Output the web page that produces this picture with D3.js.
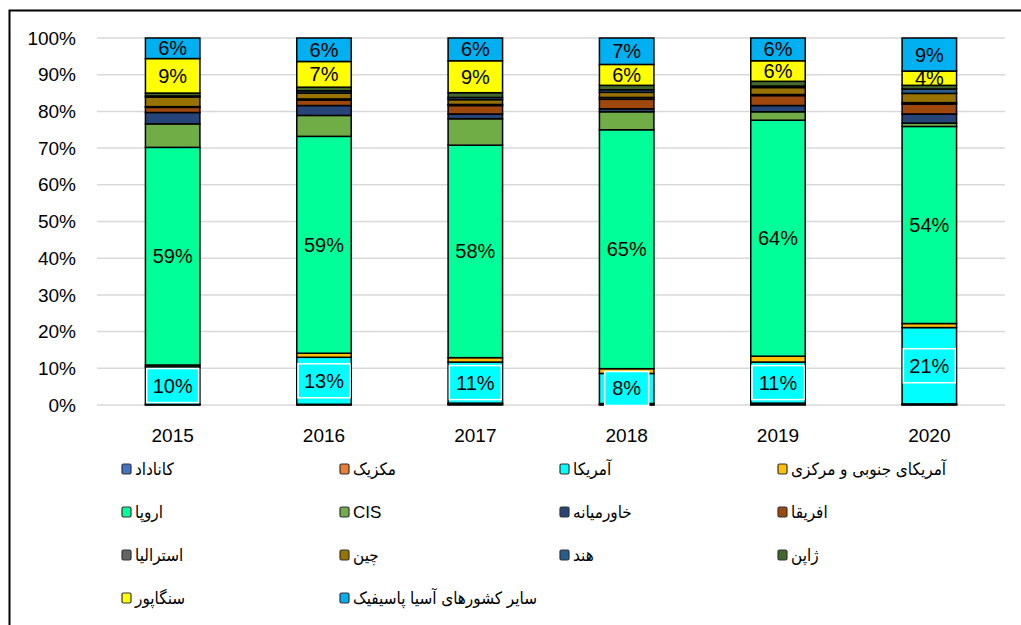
<!DOCTYPE html>
<html>
<head>
<meta charset="utf-8">
<script src="https://cdn.jsdelivr.net/npm/d3@7"></script>
<style>
  body { margin: 0; background: #fff; }
  svg text { font-family: "Liberation Sans", "DejaVu Sans Condensed", sans-serif; }
</style>
</head>
<body>
<div id="chart"></div>
<script>
// سال‌ها
const years = ["2015", "2016", "2017", "2018", "2019", "2020"];

// سری‌ها (از پایین به بالای ستون)
const seriesNames = ["کاناداد", "مکزیک", "آمریکا", "آمریکای جنوبی و مرکزی", "اروپا", "CIS",
  "خاورمیانه", "افریقا", "استرالیا", "چین", "هند", "ژاپن", "سنگاپور", "سایر کشورهای آسیا پاسیفیک"];
const seriesColors = ["#4472C4", "#ED7D31", "#00FFFF", "#FFC000", "#00FF99", "#70AD47",
  "#264478", "#9E480E", "#636363", "#997300", "#255E91", "#43682B", "#FFFF00", "#00B0F0"];

// سهم هر منطقه (درصد) برای هر سال
const canada    = [0.1, 0.1, 0.2, 0.1, 0.2, 0.1];
const mexico    = [0.1, 0.1, 0.3, 0.3, 0.3, 0.2];
const usa       = [10.2, 12.8, 11.2, 8.2, 11.2, 20.8];
const southAm   = [0.5, 1.1, 1.2, 1.3, 1.6, 1.1];
const europe    = [59.3, 59.1, 57.9, 65.1, 64.3, 53.7];
const cis       = [6.4, 5.7, 7.2, 4.9, 2.3, 0.9];
const midEast   = [3.1, 2.7, 1.3, 0.8, 1.7, 2.5];
const africa    = [1.4, 1.5, 2.3, 2.6, 2.7, 2.7];
const australia = [0.2, 0.3, 0.3, 0.5, 0.3, 0.4];
const china     = [2.6, 1.6, 1.3, 1.4, 1.9, 2.5];
const india     = [0.3, 0.6, 0.6, 0.7, 0.4, 1.2];
const japan     = [0.8, 1.0, 1.3, 1.2, 1.3, 1.0];
const singapore = [9.4, 7.0, 8.7, 5.7, 5.6, 3.9];
const otherAP   = [5.6, 6.4, 6.2, 7.2, 6.2, 9.0];

const yTicks = [0, 10, 20, 30, 40, 50, 60, 70, 80, 90, 100];

// سری‌هایی که برچسب دارند
const labeled = ["آمریکا", "اروپا", "سنگاپور", "سایر کشورهای آسیا پاسیفیک"];
const boxed = "آمریکا";

const allSeries = [canada, mexico, usa, southAm, europe, cis, midEast, africa,
  australia, china, india, japan, singapore, otherAP];

const rows = years.map((y, i) => {
  const r = { year: y };
  seriesNames.forEach((n, k) => { r[n] = allSeries[k][i]; });
  return r;
});

const W = 1021, H = 625;
const svg = d3.select("#chart").append("svg")
  .attr("width", W).attr("height", H);

// قاب
svg.append("path")
  .attr("d", "M9.5,625 V10.5 H1021")
  .attr("fill", "none").attr("stroke", "#000").attr("stroke-width", 2);

const x = d3.scaleBand().domain(years).range([97, 1005])
  .paddingInner(0.64).paddingOuter(0.32);
const y = d3.scaleLinear().domain([0, 100]).range([405, 38]);

// خطوط شبکه
svg.append("g").selectAll("line").data(yTicks).join("line")
  .attr("x1", 97).attr("x2", 1005)
  .attr("y1", d => y(d)).attr("y2", d => y(d))
  .attr("stroke", "#d9d9d9").attr("stroke-width", 1.5);

svg.append("g").selectAll("text").data(yTicks).join("text")
  .attr("x", 76).attr("y", d => y(d)).attr("dy", "0.35em")
  .attr("text-anchor", "end").attr("font-size", 19).attr("fill", "#000")
  .text(d => d + "%");

svg.append("g").selectAll("text").data(years).join("text")
  .attr("x", d => x(d) + x.bandwidth() / 2).attr("y", 435).attr("dy", "0.35em")
  .attr("text-anchor", "middle").attr("font-size", 19).attr("fill", "#000")
  .text(d => d);

const stack = d3.stack().keys(seriesNames);
const stacked = stack(rows);
const color = d3.scaleOrdinal().domain(seriesNames).range(seriesColors);

const layers = svg.append("g").selectAll("g").data(stacked).join("g")
  .attr("fill", d => color(d.key));

layers.selectAll("rect").data(d => d).join("rect")
  .attr("x", d => x(d.data.year))
  .attr("width", x.bandwidth())
  .attr("y", d => y(d[1]))
  .attr("height", d => y(d[0]) - y(d[1]))
  .attr("stroke", "#000").attr("stroke-width", 1.5);

// برچسب داده‌ها
const labelG = svg.append("g");
stacked.filter(s => labeled.includes(s.key)).forEach(s => {
  s.forEach(d => {
    const cx = x(d.data.year) + x.bandwidth() / 2;
    const cy = y((d[0] + d[1]) / 2);
    const txt = Math.round(d[1] - d[0]) + "%";
    if (s.key === boxed) {
      const bw = txt.length > 2 ? 52 : 44;
      labelG.append("rect")
        .attr("x", cx - bw / 2).attr("y", cy - 17)
        .attr("width", bw).attr("height", 34)
        .attr("fill", color(s.key)).attr("stroke", "#fff").attr("stroke-width", 1.5);
    }
    labelG.append("text")
      .attr("x", cx).attr("y", cy).attr("dy", "0.35em")
      .attr("text-anchor", "middle").attr("font-size", 20).attr("fill", "#000")
      .text(txt);
  });
});

// راهنما
const legCols = [122, 340, 560, 778];
const legRows = [469, 512, 555, 598];
const legend = svg.append("g").selectAll("g").data(seriesNames).join("g")
  .attr("transform", (d, i) => `translate(${legCols[i % 4]},${legRows[Math.floor(i / 4)]})`);
legend.append("rect")
  .attr("x", 0).attr("y", -5).attr("width", 9).attr("height", 10)
  .attr("rx", 1.5)
  .attr("fill", d => color(d)).attr("stroke", "#333").attr("stroke-width", 1.2);
legend.append("text")
  .attr("x", 13).attr("y", 0).attr("dy", "0.35em")
  .attr("font-size", 17).attr("fill", "#000")
  .text(d => d);
</script>
</body>
</html>
